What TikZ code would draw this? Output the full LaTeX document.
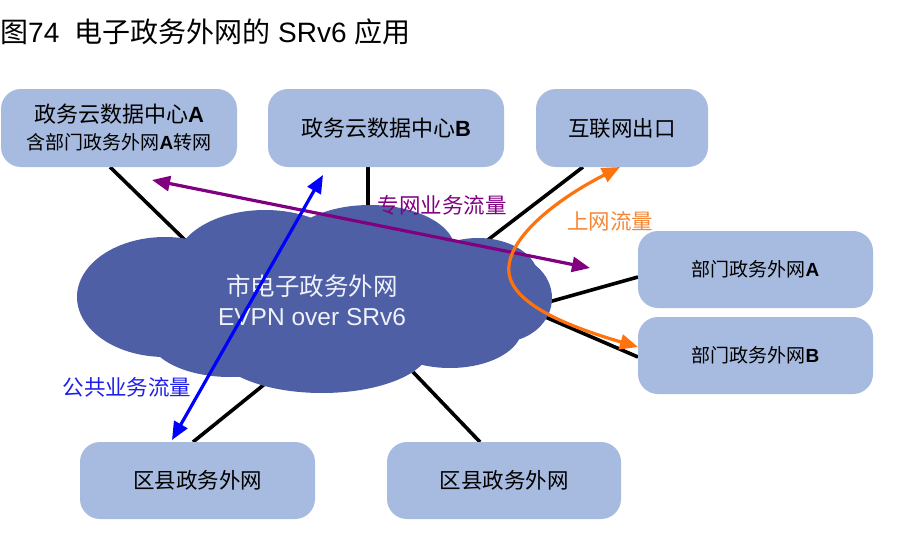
\documentclass[tikz,border=0pt]{standalone}
\usepackage{fontspec}
\setmainfont{Liberation Sans}
\newfontfamily\cjk{Noto Sans CJK SC}
\usetikzlibrary{arrows.meta}
\definecolor{boxfill}{RGB}{167,186,223}
\definecolor{cloudfill}{RGB}{78,95,165}
\definecolor{flowpurple}{RGB}{128,0,128}
\definecolor{floworange}{RGB}{255,115,15}
\definecolor{flowblue}{RGB}{0,0,255}
\definecolor{lblorange}{RGB}{245,135,55}
\definecolor{lblblue}{RGB}{30,30,235}
\definecolor{cloudtext}{RGB}{240,242,250}
\pgfdeclarelayer{linklayer}
\pgfdeclarelayer{cloudlayer}
\pgfsetlayers{linklayer,cloudlayer,main}
\begin{document}
\begin{tikzpicture}[x=1pt,y=-1pt,
  gbox/.style={rectangle, rounded corners=20pt, fill=boxfill, inner sep=0pt, align=center, text=black},
  link/.style={line width=3.6pt, black},
  flow/.style={line width=3.2pt, {Triangle[length=18pt,width=15pt]}-{Triangle[length=18pt,width=15pt]}},
  lbl/.style={inner sep=0pt, font=\cjk\fontsize{21.5}{26}\selectfont}]
\useasboundingbox (0,0) rectangle (898,533);

% title
\node[anchor=west, inner sep=0pt, font=\fontsize{28}{32}\selectfont] (title) at (0,32)
  {{\cjk 图}74\hspace{15pt}{\cjk 电子政务外网的} SRv6 {\cjk 应用}};

% boxes
\node[gbox, minimum width=236pt, minimum height=78pt, font=\fontsize{22}{27}\selectfont] (dcA) at (119,128)
  {{\cjk 政务云数据中心}\textbf{A}\\{\fontsize{19}{27}\selectfont{\cjk 含部门政务外网}\textbf{A}{\cjk 转网}}};
\node[gbox, minimum width=236pt, minimum height=78pt, font=\fontsize{22}{27}\selectfont] (dcB) at (386,128)
  {{\cjk 政务云数据中心}\textbf{B}};
\node[gbox, minimum width=172pt, minimum height=78pt, font=\cjk\fontsize{21.5}{27}\selectfont] (inet) at (622,128)
  {互联网出口};
\node[gbox, minimum width=235pt, minimum height=77pt, font=\fontsize{19}{24}\selectfont] (deptA) at (755.5,269.5)
  {{\cjk 部门政务外网}\textbf{A}};
\node[gbox, minimum width=235pt, minimum height=77pt, font=\fontsize{19}{24}\selectfont] (deptB) at (755.5,355.5)
  {{\cjk 部门政务外网}\textbf{B}};
\node[gbox, minimum width=235pt, minimum height=77pt, font=\cjk\fontsize{21.5}{26}\selectfont] (cty1) at (197.5,480.5)
  {区县政务外网};
\node[gbox, minimum width=234pt, minimum height=77pt, font=\cjk\fontsize{21.5}{26}\selectfont] (cty2) at (504,480.5)
  {区县政务外网};

% connection points
\coordinate (a1) at (110,167);  \coordinate (a2) at (188,243);
\coordinate (b1) at (368,167);  \coordinate (b2) at (368,218);
\coordinate (i1) at (583,167);  \coordinate (i2) at (476,249);
\coordinate (p1) at (638,277);  \coordinate (p2) at (538,305);
\coordinate (q1) at (638,357);  \coordinate (q2) at (536,313);
\coordinate (c1) at (193,442);  \coordinate (c2) at (266,383);
\coordinate (d1) at (480,442);  \coordinate (d2) at (413,372);

\begin{pgfonlayer}{linklayer}
  \draw[link] (a1) -- (a2);
  \draw[link] (b1) -- (b2);
  \draw[link] (i1) -- (i2);
  \draw[link] (p1) -- (p2);
  \draw[link] (q1) -- (q2);
  \draw[link] (c1) -- (c2);
  \draw[link] (d1) -- (d2);
\end{pgfonlayer}

% cloud
\begin{pgfonlayer}{cloudlayer}
  \fill[cloudfill] (165,297) ellipse [x radius=88pt, y radius=60pt];
  \fill[cloudfill] (265,265) ellipse [x radius=90pt, y radius=55pt];
  \fill[cloudfill] (370,250) ellipse [x radius=85pt, y radius=45pt];
  \fill[cloudfill] (478,277) ellipse [x radius=60pt, y radius=39pt];
  \fill[cloudfill] (502,298) ellipse [x radius=50pt, y radius=44pt];
  \fill[cloudfill] (450,328) ellipse [x radius=72pt, y radius=40pt];
  \fill[cloudfill] (322,347) ellipse [x radius=108pt, y radius=46pt];
  \fill[cloudfill] (230,335) ellipse [x radius=82pt, y radius=42pt];
  \fill[cloudfill] (320,300) ellipse [x radius=180pt, y radius=58pt];
\end{pgfonlayer}

\node[text=cloudtext, align=center, inner sep=0pt, font=\fontsize{24.5}{30}\selectfont] (cloudtxt) at (312,300)
  {{\cjk 市电子政务外网}\\EVPN over SRv6};

% flows
\coordinate (pA) at (152,180);  \coordinate (pB) at (590,268);
\coordinate (bA) at (323,175);  \coordinate (bB) at (172,440);
\coordinate (oA) at (620,167);  \coordinate (oM) at (509,273);  \coordinate (oB) at (638,347);
\draw[flow, flowpurple] (pA) -- (pB);
\draw[flow, flowblue] (bA) -- (bB);
\draw[flow, floworange] (oA) .. controls (555,200) and (505,240) .. (oM) .. controls (513,305) and (570,327) .. (oB);

% labels
\node[lbl, text=flowpurple] (lblP) at (442,205) {专网业务流量};
\node[lbl, text=lblorange] (lblO) at (610,221) {上网流量};
\node[lbl, text=lblblue] (lblB) at (127,387) {公共业务流量};
\end{tikzpicture}
\end{document}
